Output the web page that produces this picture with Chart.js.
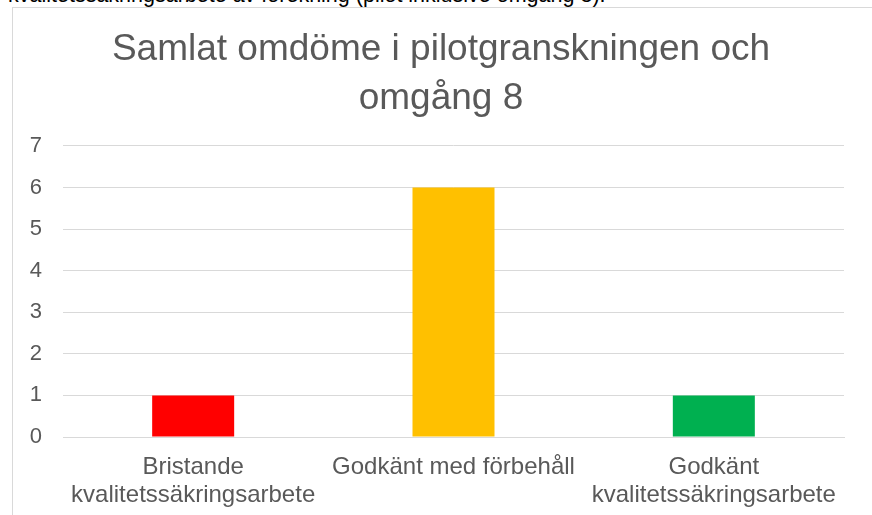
<!DOCTYPE html>
<html>
<head>
<meta charset="utf-8">
<script src="https://cdn.jsdelivr.net/npm/chart.js@4"></script>
<style>
  body { margin: 0; background: #fff; overflow: hidden; width: 872px; height: 515px; position: relative; }
  #ovan { position: absolute; left: 8px; top: -17px; font: 21.5px "Liberation Sans", Arial, sans-serif; color: #000; white-space: nowrap; }
  #ram { position: absolute; left: 12px; top: 7px; width: 880px; height: 520px; border: 1px solid #d9d9d9; background: #fff; }
  #ram canvas { position: absolute; left: 0; top: 0; }
</style>
</head>
<body>
<div id="ovan">kvalitetssäkringsarbete av förekning (pilot inklusive omgång 8).</div>
<div id="ram"><canvas id="myChart" width="856" height="508"></canvas></div>
<script>
'use strict'

// kategorier och antal
const kategorier = [
  ['Bristande', 'kvalitetssäkringsarbete'],
  'Godkänt med förbehåll',
  ['Godkänt', 'kvalitetssäkringsarbete']
];
const antal = [1, 6, 1];
const farger = ['#FF0000', '#FFC000', '#00B050'];
const rubrik = ['Samlat omdöme i pilotgranskningen och', 'omgång 8'];

const grå = '#595959';
const typsnitt = '"Liberation Sans", Arial, sans-serif';

let ctx = document.getElementById('myChart');
window.myChart = new Chart(ctx, {
  type: 'bar',
  data: {
    labels: kategorier,
    datasets: [{
      data: antal,
      backgroundColor: farger,
      borderWidth: 0,
      categoryPercentage: 1,
      barPercentage: 0.315
    }]
  },
  options: {
    responsive: false,
    animation: false,
    layout: { padding: 0 },
    plugins: {
      legend: { display: false },
      tooltip: { enabled: false },
      title: {
        display: true,
        text: rubrik,
        color: grå,
        font: { family: typsnitt, size: 37, weight: 'normal', lineHeight: 1.324 },
        padding: { top: 17, bottom: 23 }
      }
    },
    scales: {
      x: {
        grid: { display: false, drawTicks: false },
        border: { display: true, color: '#d9d9d9', width: 1 },
        ticks: { color: grå, font: { family: typsnitt, size: 24, lineHeight: 1.17 }, padding: 16, maxRotation: 0, autoSkip: false },
        afterFit: function(s) { s.height = 79; }
      },
      y: {
        min: 0,
        max: 7,
        grid: { color: '#d9d9d9', drawTicks: false },
        border: { display: false },
        ticks: { stepSize: 1, color: grå, font: { family: typsnitt, size: 22 }, padding: 21 },
        afterFit: function(s) { s.width = 50; }
      },
      // tom marginal till höger
      hoger: {
        position: 'right',
        min: 0,
        max: 7,
        grid: { display: false, drawTicks: false },
        border: { display: false },
        ticks: { display: false },
        afterFit: function(s) { s.width = 25; }
      }
    }
  }
});
</script>
</body>
</html>
